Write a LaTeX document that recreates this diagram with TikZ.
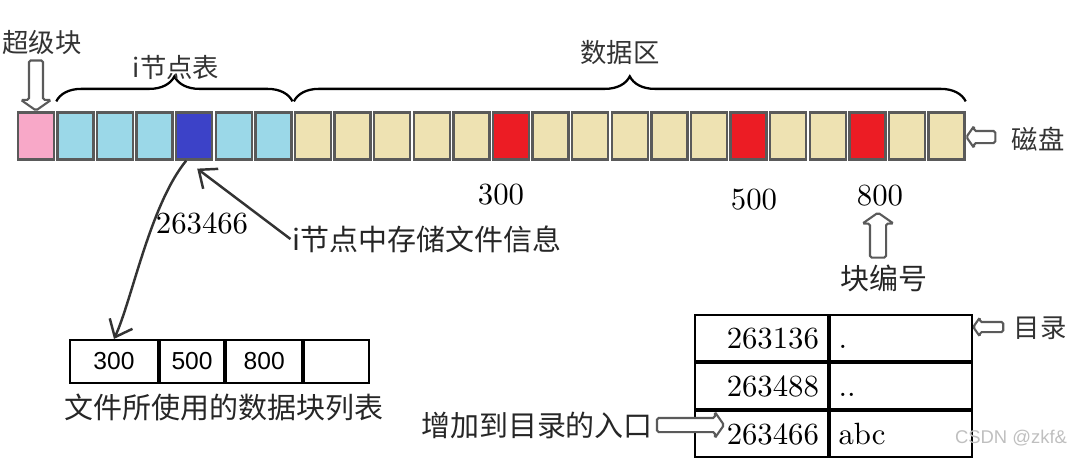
\documentclass[tikz,border=0pt]{standalone}
\usepackage{fontspec}
\newfontfamily\cjk{Noto Sans CJK SC}
\newfontfamily\arialf{Liberation Sans}
\newfontfamily\numf{lmroman10-regular.otf}
\usetikzlibrary{positioning,arrows.meta,calc,shapes.arrows,decorations.pathreplacing}
\definecolor{sbpink}{HTML}{F8A8C8}
\definecolor{ndblue}{HTML}{9BD8E8}
\definecolor{ndsel}{HTML}{3C42C8}
\definecolor{dtan}{HTML}{EEE2B2}
\definecolor{dred}{HTML}{EC1C24}
\definecolor{edgegray}{HTML}{5A5A5A}

\begin{document}
\begin{tikzpicture}[x=0.02cm, y=-0.02cm,
    blk/.style={draw=edgegray, line width=1.3pt, minimum width=0.72cm,
                minimum height=0.94cm, inner sep=0pt},
    lbl/.style={font=\cjk\fontsize{15}{18}\selectfont, text=black!80, inner sep=1pt},
    lblL/.style={font=\cjk\fontsize{16.5}{20}\selectfont, text=black!85, inner sep=1pt},
    num/.style={font=\numf\fontsize{17.5}{20}\selectfont, inner sep=1pt},
    hol/.style={single arrow, draw=edgegray, fill=white, line width=1.2pt,
                inner xsep=0pt, single arrow head extend=0.12cm,
                single arrow tip angle=110, rounded corners=1pt},
    brc/.style={decorate, decoration={brace, amplitude=0.5cm}, line width=1.3pt},
    ar/.style={-{Straight Barb[length=3mm, width=5mm]}, line width=1.4pt, black!80},
    cell/.style={draw, line width=1.2pt, minimum height=0.86cm, inner sep=0pt,
                 font=\arialf\fontsize{14}{16}\selectfont},
    dcell/.style={draw, line width=1.2pt, minimum height=0.92cm, inner sep=0pt,
                  text height=11.5pt, text depth=0pt, font=\numf\fontsize{17.5}{20}\selectfont},
]
\useasboundingbox (0,0) rectangle (1073,457);
% --- the disk: superblock, i-node table, data area ---
\foreach \c [count=\i from 0] in {sbpink,ndblue,ndblue,ndblue,ndsel,ndblue,ndblue,
    dtan,dtan,dtan,dtan,dtan,dred,dtan,dtan,dtan,dtan,dtan,dred,dtan,dtan,dred,dtan,dtan}
  \node[blk, fill=\c] (b\i) at (35.8+39.6*\i,136) {};
\draw[brc] ([yshift=0.2cm]b1.north west) -- ([yshift=0.2cm]b6.north east);
\draw[brc] ([yshift=0.2cm]b7.north west) -- ([yshift=0.2cm]b23.north east);
\node[lbl] (tilbl) at (176,67) {i节点表};
\node[lbl] (dtlbl) at (620,53) {数据区};
\node[lbl] (sblbl) at (42,42) {超级块};
\node[hol, rotate=-90, minimum height=1cm, inner ysep=0.12cm,
      single arrow head extend=0.16cm] (sbar) at (36,83) {};
\node[lbl] (disk) at (1038,139) {磁盘};
\node[hol, rotate=180, minimum height=0.58cm, inner ysep=0.1cm,
      single arrow head extend=0.1cm] (diskar) at (983,137) {};
% --- block numbers ---
\node[num] (n300) at (501,195) {300};
\node[num] (n500) at (754,200) {500};
\node[num] (n800) at (880,196) {800};
\node[hol, rotate=90, minimum height=0.9cm, inner ysep=0.14cm,
      single arrow head extend=0.15cm] (noar) at (878,238) {};
\node[lblL] (blkno) at (884,278) {块编号};
% --- the i-node of the file ---
\node[num] (inum) at (202,223) {263466};
\node[lblL] (info) at (427,239) {i节点中存储文件信息};
\draw[ar] (info.west) -- ([shift={(0.06cm,-0.16cm)}]b4.south);
% --- list of data blocks ---
\node[cell, minimum width=1.76cm] (c1) at (114,361.5) {300};
\node[cell, minimum width=1.28cm, right=0pt of c1] (c2) {500};
\node[cell, minimum width=1.52cm, right=0pt of c2] (c3) {800};
\node[cell, minimum width=1.30cm, right=0pt of c3] (c4) {};
\node[lblL] (flist) at (224,407) {文件所使用的数据块列表};
\draw[ar] ([xshift=-0.16cm]b4.south) .. controls (150,205) and (132,300) .. (c1.north);
% --- directory ---
\node[dcell, minimum width=2.66cm, text width=2.3cm, align=right] (d1) at (761.5,338) {263136};
\node[dcell, minimum width=2.84cm, text width=2.5cm, align=left, right=0pt of d1] (e1) {.};
\node[dcell, minimum width=2.66cm, text width=2.3cm, align=right, below=0pt of d1] (d2) {263488};
\node[dcell, minimum width=2.84cm, text width=2.5cm, align=left, right=0pt of d2] (e2) {..};
\node[dcell, minimum width=2.66cm, text width=2.3cm, align=right, below=0pt of d2] (d3) {263466};
\node[dcell, minimum width=2.84cm, text width=2.5cm, align=left, right=0pt of d3] (e3) {abc};
\node[lbl] (dirlbl) at (1040,328) {目录};
\node[hol, rotate=180, minimum height=0.6cm, inner ysep=0.08cm,
      single arrow head extend=0.09cm] (dirar) at (990,327) {};
\node[lblL] (entry) at (537,425) {增加到目录的入口};
\node[hol, minimum height=1.34cm, inner ysep=0.12cm,
      single arrow head extend=0.12cm] (entar) at (688,425) {};
\node[font=\arialf\fontsize{10.5}{12}\selectfont, text=gray!50] (wm) at (1011,438) {CSDN @zkf\&};
\end{tikzpicture}
\end{document}
